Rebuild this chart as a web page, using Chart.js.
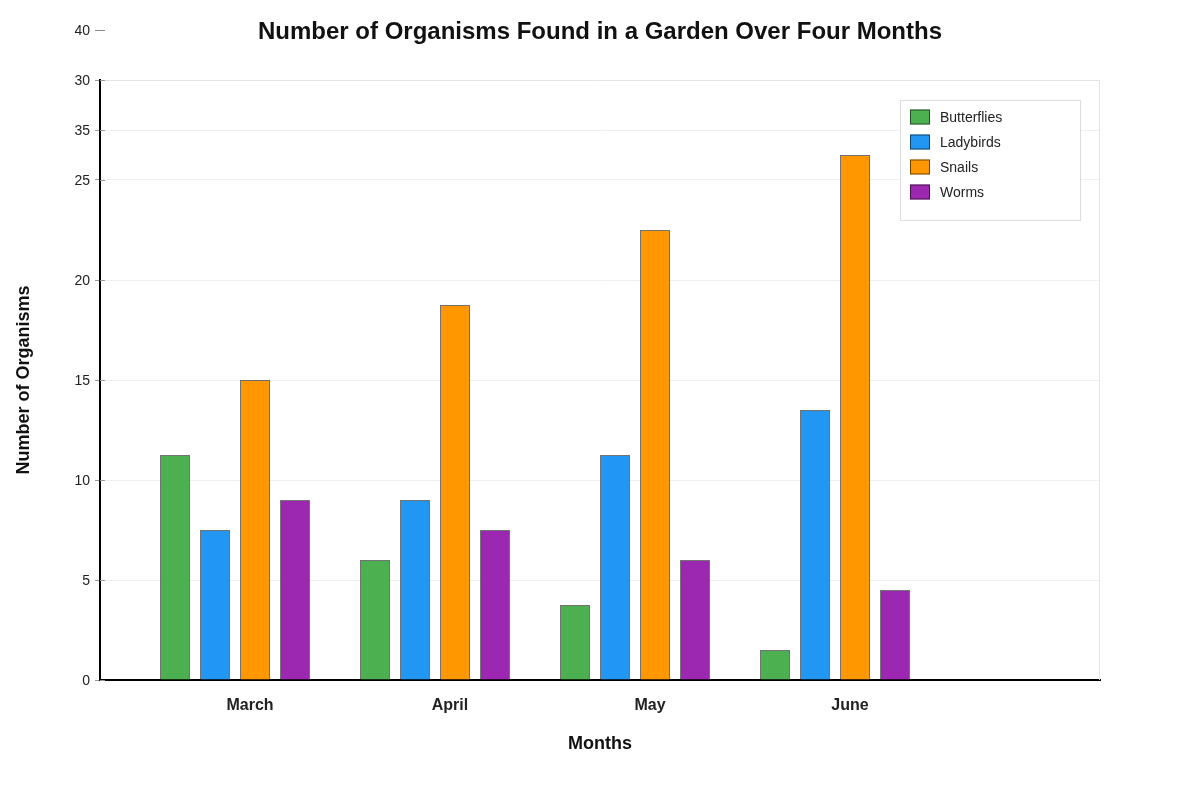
<!DOCTYPE html>
<html>
<head>
<meta charset="utf-8">
<title>Organisms in a Garden</title>
<script src="https://cdn.jsdelivr.net/npm/chart.js@4.4.1/dist/chart.umd.min.js"></script>
<style>
  html, body { margin: 0; padding: 0; background: #fff; }
  #wrap { width: 1200px; height: 800px; }
</style>
</head>
<body>
<div id="wrap"><canvas id="gardenChart" width="1200" height="800"></canvas></div>
<script>
const months = ["March", "April", "May", "June"];
const butterflies = [11.25, 6, 3.75, 1.5];
const ladybirds = [7.5, 9, 11.25, 13.5];
const snails = [15, 18.75, 22.5, 26.25];
const worms = [9, 7.5, 6, 4.5];

// y ticks as printed on the original (labels do not follow the values)
const yTickValues = [0, 5, 10, 15, 20, 25, 27.5, 30, 32.5];
const yTickLabels = ["0", "5", "10", "15", "20", "25", "35", "30", "40"];

const seriesNames = ["Butterflies", "Ladybirds", "Snails", "Worms"];
const seriesColors = ["#4caf50", "#2196f3", "#ff9800", "#9c27b0"];
const seriesValues = [butterflies, ladybirds, snails, worms];

const Y_MAX = 30;
const FONT = "'Liberation Sans', Arial, sans-serif";

const datasets = seriesNames.map((name, i) => ({
  label: name,
  data: seriesValues[i].map((v, j) => ({ x: j, y: v })),
  backgroundColor: seriesColors[i],
  borderColor: "rgba(0,0,0,0.55)",
  borderWidth: 1,
  categoryPercentage: 0.8,
  barPercentage: 0.75
}));

// title, plot frame, tick marks across the axis, the stray "40" tick and the inside legend
const extras = {
  id: "extras",
  beforeDatasetsDraw(chart) {
    const { ctx, chartArea: a } = chart;
    ctx.save();
    ctx.strokeStyle = "#e4e4e4";
    ctx.lineWidth = 1;
    ctx.beginPath();
    ctx.moveTo(a.left, a.top + 0.5);
    ctx.lineTo(a.right - 0.5, a.top + 0.5);
    ctx.lineTo(a.right - 0.5, a.bottom);
    ctx.stroke();
    // short inner half of the y tick marks
    ctx.strokeStyle = "#999";
    chart.scales.y.ticks.forEach((t) => {
      const py = Math.round(chart.scales.y.getPixelForValue(t.value)) + 0.5;
      ctx.beginPath();
      ctx.moveTo(a.left, py);
      ctx.lineTo(a.left + 5, py);
      ctx.stroke();
    });
    ctx.restore();
  },
  afterDraw(chart) {
    const { ctx } = chart;
    const y = chart.scales.y;
    ctx.save();

    ctx.fillStyle = "#111";
    ctx.font = "bold 24px " + FONT;
    ctx.textAlign = "center";
    ctx.textBaseline = "middle";
    ctx.fillText("Number of Organisms Found in a Garden Over Four Months", 600, 32);

    // ticks beyond the axis max
    ctx.font = "14px " + FONT;
    ctx.textAlign = "right";
    yTickValues.forEach((v, i) => {
      if (v <= Y_MAX) return;
      const py = y.getPixelForValue(v);
      ctx.fillStyle = "#222";
      ctx.fillText(yTickLabels[i], 90, py + 1);
      ctx.strokeStyle = "#888";
      ctx.beginPath();
      ctx.moveTo(95, Math.round(py) + 0.5);
      ctx.lineTo(105, Math.round(py) + 0.5);
      ctx.stroke();
    });

    // legend
    const lx = 900, ly = 100;
    ctx.fillStyle = "#fff";
    ctx.fillRect(lx, ly, 180, 120);
    ctx.strokeStyle = "#dcdcdc";
    ctx.strokeRect(lx + 0.5, ly + 0.5, 180, 120);
    ctx.textAlign = "left";
    chart.data.datasets.forEach((ds, i) => {
      const cy = ly + 17 + i * 25;
      ctx.fillStyle = ds.backgroundColor;
      ctx.fillRect(lx + 10, cy - 7.5, 20, 15);
      ctx.strokeStyle = "rgba(0,0,0,0.55)";
      ctx.strokeRect(lx + 10.5, cy - 7, 19, 14);
      ctx.fillStyle = "#222";
      ctx.fillText(ds.label, lx + 40, cy + 1);
    });
    ctx.restore();
  }
};

new Chart(document.getElementById("gardenChart"), {
  type: "bar",
  data: { datasets },
  options: {
    responsive: false,
    animation: false,
    layout: { padding: { top: 80, right: 100, bottom: 0, left: 0 } },
    plugins: {
      legend: { display: false },
      title: { display: false },
      tooltip: { enabled: false }
    },
    scales: {
      x: {
        type: "linear",
        offset: false,
        min: -0.675,
        max: 4.325,
        afterBuildTicks: (s) => { s.ticks = months.map((m, i) => ({ value: i })); },
        afterFit: (s) => { s.height = 120; },
        grid: { display: false, drawTicks: false, offset: false },
        border: { color: "#000", width: 2 },
        ticks: {
          callback: (v) => months[v],
          labelOffset: 15,
          padding: 16,
          color: "#222",
          font: { family: FONT, size: 16, weight: "bold" }
        },
        title: {
          display: true,
          text: "Months",
          color: "#111",
          padding: { top: 45, bottom: 45 },
          font: { family: FONT, size: 18, weight: "bold" }
        }
      },
      y: {
        min: 0,
        max: Y_MAX,
        afterBuildTicks: (s) => {
          s.ticks = yTickValues.filter((v) => v <= Y_MAX).map((v) => ({ value: v }));
        },
        afterFit: (s) => { s.width = 100; },
        grid: { color: "#f0f0f0", tickColor: "#999", tickLength: 5 },
        border: { color: "#000", width: 2 },
        ticks: {
          callback: (v) => yTickLabels[yTickValues.indexOf(v)],
          padding: 5,
          labelOffset: 1,
          color: "#222",
          font: { family: FONT, size: 14 }
        },
        title: {
          display: true,
          text: "Number of Organisms",
          color: "#111",
          padding: { top: 13 },
          font: { family: FONT, size: 18, weight: "bold" }
        }
      }
    }
  },
  plugins: [extras]
});
</script>
</body>
</html>
